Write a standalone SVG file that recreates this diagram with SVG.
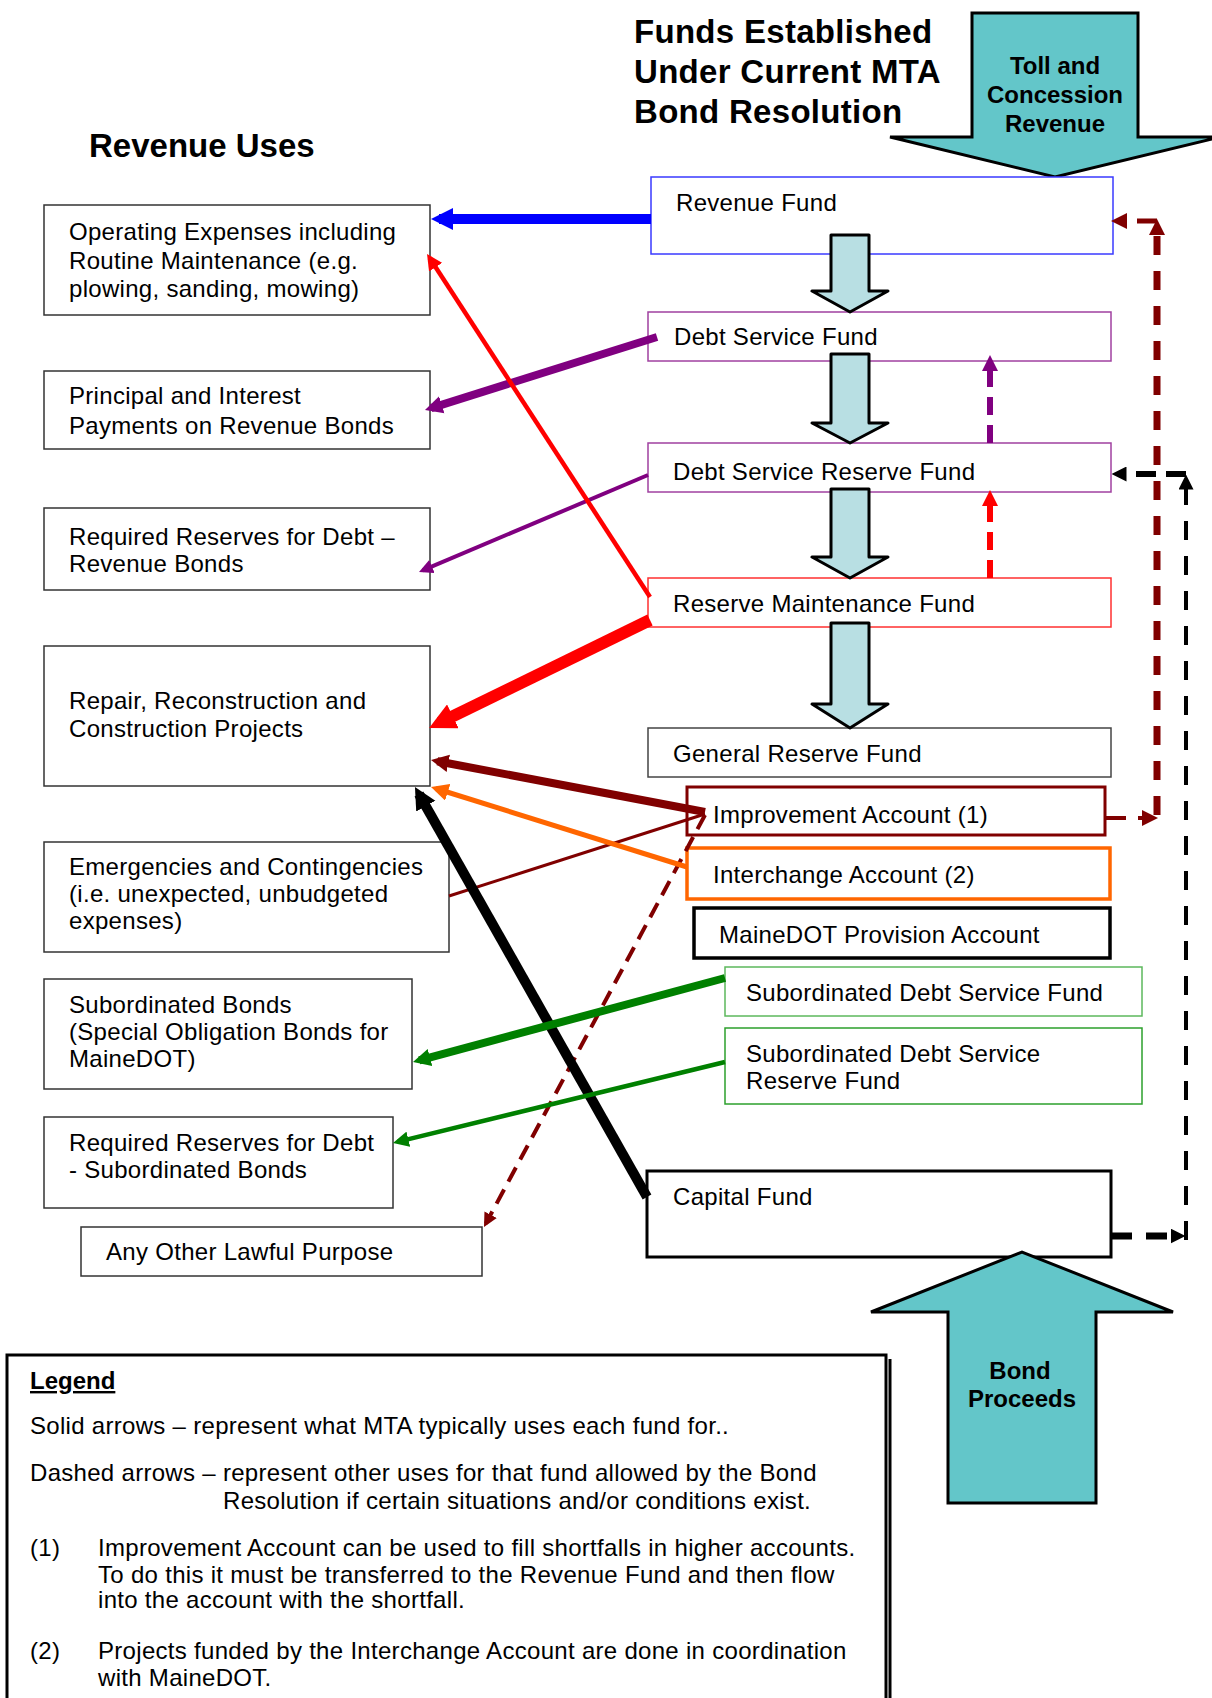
<svg xmlns="http://www.w3.org/2000/svg" width="1212" height="1698" viewBox="0 0 1212 1698">
<defs>
<style>
text{font-family:'Liberation Sans',Arial,sans-serif;font-size:24px;fill:#000;letter-spacing:0.3px}
.h{font-weight:bold;letter-spacing:0}
.box{fill:#fff;stroke:#333;stroke-width:1.5}
.flow{fill:#b8dfe3;stroke:#000;stroke-width:3;stroke-linejoin:round}
.big{fill:#63c6c9;stroke:#000;stroke-width:3;stroke-linejoin:miter}
.c{fill:none;stroke-linecap:butt}
</style>
<marker id="b-blue" viewBox="0 0 10 10" refX="6.36" refY="5" markerWidth="2.2" markerHeight="2.8" orient="auto" markerUnits="strokeWidth"><path d="M0,0L10,5L0,10z" fill="#0000ff"/></marker>
<marker id="b-purple" viewBox="0 0 10 10" refX="6.36" refY="5" markerWidth="2.2" markerHeight="2.8" orient="auto" markerUnits="strokeWidth"><path d="M0,0L10,5L0,10z" fill="#800080"/></marker>
<marker id="t-purple" viewBox="0 0 10 10" refX="7.14" refY="5" markerWidth="3.5" markerHeight="3.5" orient="auto" markerUnits="strokeWidth"><path d="M0,0L10,5L0,10z" fill="#800080"/></marker>
<marker id="t-red" viewBox="0 0 10 10" refX="7.14" refY="5" markerWidth="3.5" markerHeight="3.5" orient="auto" markerUnits="strokeWidth"><path d="M0,0L10,5L0,10z" fill="#ff0000"/></marker>
<marker id="r-red" viewBox="0 0 10 10" refX="5.5" refY="5" markerWidth="2.2" markerHeight="2.2" orient="auto" markerUnits="strokeWidth"><path d="M0,0L10,5L0,10z" fill="#ff0000"/></marker>
<marker id="b-darkred" viewBox="0 0 10 10" refX="6.36" refY="5" markerWidth="2.2" markerHeight="2.8" orient="auto" markerUnits="strokeWidth"><path d="M0,0L10,5L0,10z" fill="#800000"/></marker>
<marker id="t-darkred" viewBox="0 0 10 10" refX="7.14" refY="5" markerWidth="3.5" markerHeight="3.5" orient="auto" markerUnits="strokeWidth"><path d="M0,0L10,5L0,10z" fill="#800000"/></marker>
<marker id="t-orange" viewBox="0 0 10 10" refX="7.14" refY="5" markerWidth="3.5" markerHeight="3.5" orient="auto" markerUnits="strokeWidth"><path d="M0,0L10,5L0,10z" fill="#ff6600"/></marker>
<marker id="b-black" viewBox="0 0 10 10" refX="6.36" refY="5" markerWidth="2.2" markerHeight="2.8" orient="auto" markerUnits="strokeWidth"><path d="M0,0L10,5L0,10z" fill="#000"/></marker>
<marker id="b-green" viewBox="0 0 10 10" refX="6.36" refY="5" markerWidth="2.2" markerHeight="2.8" orient="auto" markerUnits="strokeWidth"><path d="M0,0L10,5L0,10z" fill="#008000"/></marker>
<marker id="t-green" viewBox="0 0 10 10" refX="7.14" refY="5" markerWidth="3.5" markerHeight="3.5" orient="auto" markerUnits="strokeWidth"><path d="M0,0L10,5L0,10z" fill="#008000"/></marker>
<marker id="u-purple" viewBox="0 0 10 10" refX="5" refY="5" markerWidth="16" markerHeight="16" orient="auto" markerUnits="userSpaceOnUse"><path d="M0,0L10,5L0,10z" fill="#800080"/></marker>
<marker id="u-red" viewBox="0 0 10 10" refX="5" refY="5" markerWidth="16" markerHeight="16" orient="auto" markerUnits="userSpaceOnUse"><path d="M0,0L10,5L0,10z" fill="#ff0000"/></marker>
<marker id="u-darkred" viewBox="0 0 10 10" refX="5" refY="5" markerWidth="16" markerHeight="16" orient="auto" markerUnits="userSpaceOnUse"><path d="M0,0L10,5L0,10z" fill="#800000"/></marker>
<marker id="u-black" viewBox="0 0 10 10" refX="5" refY="5" markerWidth="15" markerHeight="15" orient="auto" markerUnits="userSpaceOnUse"><path d="M0,0L10,5L0,10z" fill="#000"/></marker>
</defs>
<rect x="0" y="0" width="1212" height="1698" fill="#fff"/>

<g id="titles">
<text class="h" x="634" y="43" style="font-size:33px;letter-spacing:0.3px">Funds Established</text>
<text class="h" x="634" y="83" style="font-size:33px;letter-spacing:0.3px">Under Current MTA</text>
<text class="h" x="634" y="123" style="font-size:33px;letter-spacing:0.3px">Bond Resolution</text>
<text class="h" x="89" y="157" style="font-size:33px">Revenue Uses</text>
</g>

<g id="nodes">
<g id="toll">
<polygon class="big" points="972,13 1138,13 1138,137 1220,137 1055,177 890,137 972,137"/>
<text class="h" x="1055" y="74" text-anchor="middle">Toll and</text>
<text class="h" x="1055" y="103" text-anchor="middle">Concession</text>
<text class="h" x="1055" y="132" text-anchor="middle">Revenue</text>
</g>
<g id="operating">
<rect class="box" x="44" y="205" width="386" height="110"/>
<text x="69" y="240">Operating Expenses including</text>
<text x="69" y="269">Routine Maintenance (e.g.</text>
<text x="69" y="297">plowing, sanding, mowing)</text>
</g>
<g id="principal">
<rect class="box" x="44" y="371" width="386" height="78"/>
<text x="69" y="404">Principal and Interest</text>
<text x="69" y="434">Payments on Revenue Bonds</text>
</g>
<g id="reqrev">
<rect class="box" x="44" y="508" width="386" height="82"/>
<text x="69" y="545">Required Reserves for Debt –</text>
<text x="69" y="572">Revenue Bonds</text>
</g>
<g id="repair">
<rect class="box" x="44" y="646" width="386" height="140"/>
<text x="69" y="709">Repair, Reconstruction and</text>
<text x="69" y="737">Construction Projects</text>
</g>
<g id="emerg">
<rect class="box" x="44" y="842" width="405" height="110"/>
<text x="69" y="875">Emergencies and Contingencies</text>
<text x="69" y="902">(i.e. unexpected, unbudgeted</text>
<text x="69" y="929">expenses)</text>
</g>
<g id="subbonds">
<rect class="box" x="44" y="979" width="368" height="110"/>
<text x="69" y="1013">Subordinated Bonds</text>
<text x="69" y="1040">(Special Obligation Bonds for</text>
<text x="69" y="1067">MaineDOT)</text>
</g>
<g id="reqsub">
<rect class="box" x="44" y="1117" width="349" height="91"/>
<text x="69" y="1151">Required Reserves for Debt</text>
<text x="69" y="1178">- Subordinated Bonds</text>
</g>
<g id="lawful">
<rect class="box" x="81" y="1227" width="401" height="49"/>
<text x="106" y="1260">Any Other Lawful Purpose</text>
</g>

<g id="revfund">
<rect x="651" y="177" width="462" height="77" fill="#fff" stroke="#3a3aff" stroke-width="1.5"/>
<text x="676" y="211">Revenue Fund</text>
</g>
<g id="dsf">
<rect x="648" y="312" width="463" height="49" fill="#fff" stroke="#a040a0" stroke-width="1.5"/>
<text x="674" y="345">Debt Service Fund</text>
</g>
<g id="dsrf">
<rect x="648" y="443" width="463" height="49" fill="#fff" stroke="#a040a0" stroke-width="1.5"/>
<text x="673" y="480">Debt Service Reserve Fund</text>
</g>
<g id="rmf">
<rect x="648" y="578" width="463" height="49" fill="#fff" stroke="#ff3030" stroke-width="1.5"/>
<text x="673" y="612">Reserve Maintenance Fund</text>
</g>
<g id="grf">
<rect x="648" y="728" width="463" height="49" fill="#fff" stroke="#444" stroke-width="1.5"/>
<text x="673" y="762">General Reserve Fund</text>
</g>
<g id="improve">
<rect x="687" y="787" width="418" height="48" fill="#fff" stroke="#800000" stroke-width="3"/>
<text x="713" y="823">Improvement Account (1)</text>
</g>
<g id="interchange">
<rect x="687" y="848" width="423" height="51" fill="#fff" stroke="#ff6600" stroke-width="3.5"/>
<text x="713" y="883">Interchange Account (2)</text>
</g>
<g id="mainedot">
<rect x="694" y="908" width="416" height="50" fill="#fff" stroke="#000" stroke-width="3.5"/>
<text x="719" y="943">MaineDOT Provision Account</text>
</g>
<g id="sdsf">
<rect x="725" y="967" width="417" height="49" fill="#fff" stroke="#5cb85c" stroke-width="1.5"/>
<text x="746" y="1001">Subordinated Debt Service Fund</text>
</g>
<g id="sdsrf">
<rect x="725" y="1028" width="417" height="76" fill="#fff" stroke="#2ca02c" stroke-width="1.5"/>
<text x="746" y="1062">Subordinated Debt Service</text>
<text x="746" y="1089">Reserve Fund</text>
</g>
<g id="capital">
<rect x="647" y="1171" width="464" height="86" fill="#fff" stroke="#000" stroke-width="3"/>
<text x="673" y="1205">Capital Fund</text>
</g>
</g>

<g id="connectors">
<polygon class="flow" points="831,235 869,235 869,291 888,291 850,312 812,291 831,291"/>
<polygon class="flow" points="831,354 869,354 869,423 888,423 850,443 812,423 831,423"/>
<polygon class="flow" points="831,489 869,489 869,557 888,557 850,578 812,557 831,557"/>
<polygon class="flow" points="831,623 869,623 869,704 888,704 850,728 812,704 831,704"/>

<line class="c" x1="651" y1="219" x2="439" y2="219" stroke="#0000ff" stroke-width="10" marker-end="url(#b-blue)"/>
<line class="c" x1="657" y1="337" x2="431.1" y2="408.1" stroke="#800080" stroke-width="8" marker-end="url(#b-purple)"/>
<line class="c" x1="648" y1="475" x2="422.7" y2="570.4" stroke="#800080" stroke-width="4" marker-end="url(#t-purple)"/>
<line class="c" x1="650" y1="597" x2="429.5" y2="257.8" stroke="#ff0000" stroke-width="4.5" marker-end="url(#t-red)"/>
<line class="c" x1="650" y1="620" x2="439.8" y2="722.7" stroke="#ff0000" stroke-width="12" marker-end="url(#r-red)"/>
<line class="c" x1="705" y1="812" x2="437.3" y2="761.2" stroke="#800000" stroke-width="8" marker-end="url(#b-darkred)"/>
<line class="c" x1="705" y1="814" x2="449" y2="896" stroke="#800000" stroke-width="3"/>
<line class="c" x1="705" y1="815" x2="485.9" y2="1223.5" stroke="#800000" stroke-width="4" stroke-dasharray="16 9" marker-end="url(#t-darkred)"/>
<line class="c" x1="687" y1="867" x2="435.8" y2="788.5" stroke="#ff6600" stroke-width="5" marker-end="url(#t-orange)"/>
<line class="c" x1="647" y1="1197" x2="418.9" y2="794" stroke="#000" stroke-width="10" marker-end="url(#b-black)"/>
<line class="c" x1="725" y1="978" x2="419.2" y2="1060.3" stroke="#008000" stroke-width="8" marker-end="url(#b-green)"/>
<line class="c" x1="725" y1="1062" x2="397.4" y2="1141.9" stroke="#008000" stroke-width="4.5" marker-end="url(#t-green)"/>

<line class="c" x1="990" y1="443" x2="990" y2="363" stroke="#800080" stroke-width="6" stroke-dasharray="18 10" marker-end="url(#u-purple)"/>
<line class="c" x1="990" y1="578" x2="990" y2="498" stroke="#ff0000" stroke-width="6" stroke-dasharray="18 10" marker-end="url(#u-red)"/>

<line class="c" x1="1106" y1="818" x2="1150" y2="818" stroke="#800000" stroke-width="4" stroke-dasharray="20 12" marker-end="url(#u-darkred)"/>
<line class="c" x1="1157" y1="815" x2="1157" y2="227" stroke="#800000" stroke-width="7" stroke-dasharray="19 16" marker-end="url(#u-darkred)"/>
<line class="c" x1="1157" y1="221" x2="1119" y2="221" stroke="#800000" stroke-width="5" stroke-dasharray="20 10" marker-end="url(#u-darkred)"/>

<line class="c" x1="1111" y1="1236" x2="1178" y2="1236" stroke="#000" stroke-width="7" stroke-dasharray="21 14" marker-end="url(#u-black)"/>
<line class="c" x1="1186" y1="1240" x2="1186" y2="482" stroke="#000" stroke-width="4" stroke-dasharray="19 16" marker-end="url(#u-black)"/>
<line class="c" x1="1186" y1="474" x2="1119" y2="474" stroke="#000" stroke-width="6" stroke-dasharray="20 10" marker-end="url(#u-black)"/>
</g>

<g id="bond">
<polygon class="big" points="948,1503 1096,1503 1096,1312 1173,1312 1022,1252 871,1312 948,1312"/>
<text class="h" x="1020" y="1379" text-anchor="middle">Bond</text>
<text class="h" x="1022" y="1407" text-anchor="middle">Proceeds</text>
</g>

<g id="legend">
<rect x="7" y="1355" width="879" height="370" fill="#fff" stroke="#000" stroke-width="3"/>
<line x1="890" y1="1359" x2="890" y2="1698" stroke="#000" stroke-width="3"/>
<text class="h" x="30" y="1389" text-decoration="underline">Legend</text>
<text x="30" y="1434">Solid arrows – represent what MTA typically uses each fund for..</text>
<text x="30" y="1481">Dashed arrows – represent other uses for that fund allowed by the Bond</text>
<text x="223" y="1509">Resolution if certain situations and/or conditions exist.</text>
<text x="30" y="1556">(1)</text>
<text x="98" y="1556">Improvement Account can be used to fill shortfalls in higher accounts.</text>
<text x="98" y="1583">To do this it must be transferred to the Revenue Fund and then flow</text>
<text x="98" y="1608">into the account with the shortfall.</text>
<text x="30" y="1659">(2)</text>
<text x="98" y="1659">Projects funded by the Interchange Account are done in coordination</text>
<text x="98" y="1686">with MaineDOT.</text>
</g>
</svg>
